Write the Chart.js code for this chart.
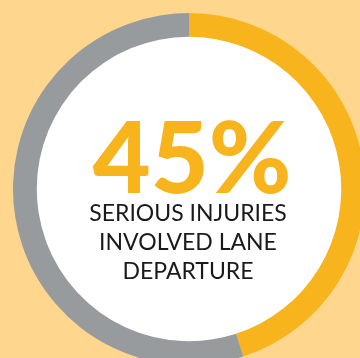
<!DOCTYPE html>
<html>
<head>
<meta charset="utf-8">
<script src="https://cdn.jsdelivr.net/npm/chart.js@4/dist/chart.umd.min.js"></script>
<style>
  html, body { margin: 0; padding: 0; background: #FED68D; overflow: hidden; width: 360px; height: 358px; }
  #wrap { position: absolute; left: 0; top: 0; width: 378px; height: 378px; }
</style>
</head>
<body>
<div id="wrap"><canvas id="chart"></canvas></div>
<script>
// Share of serious injuries involving lane departure
const categories = ['Lane departure', 'Other'];
const shares = [45, 55];
const sliceColors = ['#F8B41C', '#989B9E'];
const headline = '45%';
const captionLines = ['SERIOUS INJURIES', 'INVOLVED LANE', 'DEPARTURE'];

// Fill the doughnut hole white and write the headline inside it
const centerText = {
  id: 'centerText',
  beforeDatasetsDraw(chart) {
    const arc = chart.getDatasetMeta(0).data[0];
    const { ctx } = chart;
    ctx.save();
    ctx.beginPath();
    ctx.arc(arc.x, arc.y, arc.innerRadius + 0.5, 0, Math.PI * 2);
    ctx.fillStyle = '#FFFFFF';
    ctx.fill();
    ctx.restore();
  },
  afterDraw(chart) {
    const arc = chart.getDatasetMeta(0).data[0];
    const { ctx } = chart;
    const cx = arc.x - 1;
    ctx.save();
    ctx.textAlign = 'center';
    ctx.textBaseline = 'alphabetic';
    ctx.fillStyle = '#F8B41C';
    ctx.font = '900 100px Lato';
    ctx.fillText(headline, cx + 4, 193);
    ctx.fillStyle = '#1A1A1A';
    ctx.font = '400 23px Lato';
    captionLines.forEach((line, i) => {
      ctx.fillText(line, cx, 221 + i * 29);
    });
    ctx.restore();
  }
};

new Chart(document.getElementById('chart'), {
  type: 'doughnut',
  data: {
    labels: categories,
    datasets: [{
      data: shares,
      backgroundColor: sliceColors,
      borderWidth: 0,
      hoverOffset: 0
    }]
  },
  options: {
    responsive: true,
    maintainAspectRatio: false,
    animation: false,
    cutout: '86.5%',
    layout: { padding: 13 },
    plugins: {
      legend: { display: false },
      tooltip: { enabled: false }
    }
  },
  plugins: [centerText]
});
</script>
</body>
</html>
